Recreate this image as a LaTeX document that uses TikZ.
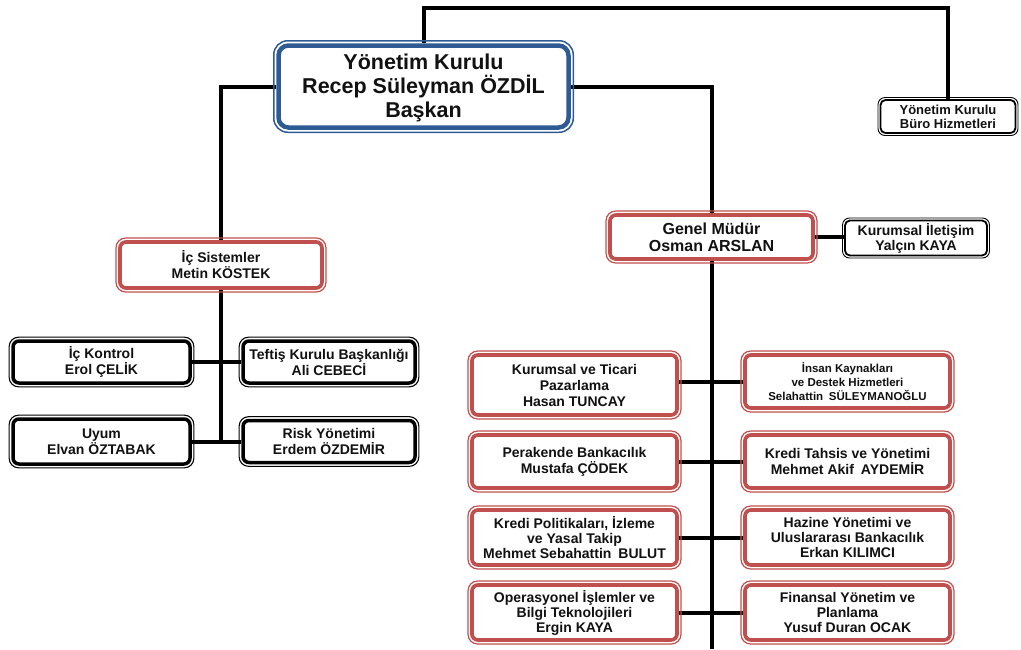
\documentclass[tikz,border=0pt]{standalone}
\usepackage{fontspec}
\setmainfont{Liberation Sans}
\usetikzlibrary{backgrounds}
\definecolor{boxred}{HTML}{C0504D}
\definecolor{boxblue}{HTML}{2E5B94}
\definecolor{txt}{HTML}{111111}
\begin{document}
\begin{tikzpicture}[x=1pt,y=-1pt,
  box/.style={rectangle, fill=white, align=center, text=txt, inner sep=1pt,
    font=\bfseries\fontsize{14}{16}\selectfont},
  redbox/.style={box, draw=boxred, line width=3.7pt, rounded corners=6pt},
  blackbox/.style={box, draw=black, line width=3.5pt, rounded corners=6pt},
  thinbox/.style={box, draw=black, line width=1.8pt, rounded corners=5pt,
    font=\bfseries\fontsize{13}{14}\selectfont},
  bluebox/.style={box, draw=boxblue, line width=4.5pt, rounded corners=10pt,
    font=\bfseries\fontsize{21.5}{24}\selectfont},
  redframe/.style={draw=boxred, line width=1.2pt, rounded corners=9.5pt},
  blackframe/.style={draw=black, line width=1.1pt, rounded corners=9.5pt},
  thinframe/.style={draw=black, line width=0.9pt, rounded corners=7pt},
  blueframe/.style={draw=boxblue, line width=1.5pt, rounded corners=14pt},
  link/.style={line width=4pt, draw=black}
]
\useasboundingbox (0,0) rectangle (1021,649);
\coordinate (tp) at (0,8);
\coordinate (bot) at (0,649);

% top level
\node[bluebox, minimum width=290, minimum height=82] (top) at (423.5,86.5)
  {\rule{0pt}{18pt}Yönetim Kurulu\\Recep Süleyman ÖZDİL\\Başkan};
\node[thinbox, minimum width=135, minimum height=33] (buro) at (948,116.5)
  {Yönetim Kurulu\\Büro Hizmetleri};

% second level
\node[redbox, minimum width=202, minimum height=46] (ics) at (221,265)
  {İç Sistemler\\Metin KÖSTEK};
\node[redbox, font=\bfseries\fontsize{16}{17}\selectfont, minimum width=203, minimum height=44] (gm) at (711.5,237)
  {Genel Müdür\\Osman ARSLAN};
\node[thinbox, font=\bfseries\fontsize{14}{15}\selectfont, minimum width=142, minimum height=35] (ki) at (916,238)
  {Kurumsal İletişim\\Yalçın KAYA};

% internal systems
\node[blackbox, minimum width=177, minimum height=42] (ik) at (101.5,362)
  {İç Kontrol\\Erol ÇELİK};
\node[blackbox, minimum width=172, minimum height=42] (tf) at (329,362)
  {Teftiş Kurulu Başkanlığı\\Ali CEBECİ};
\node[blackbox, minimum width=177, minimum height=45] (uy) at (101.5,441.5)
  {Uyum\\Elvan ÖZTABAK};
\node[blackbox, minimum width=172, minimum height=42] (rk) at (329,441.5)
  {Risk Yönetimi\\Erdem ÖZDEMİR};

% general manager units
\node[redbox, minimum width=205, minimum height=60] (kt) at (574.5,385)
  {Kurumsal ve Ticari\\Pazarlama\\Hasan TUNCAY};
\node[redbox, font=\bfseries\fontsize{11.5}{14}\selectfont, minimum width=205, minimum height=53] (ih) at (847.5,381.5)
  {İnsan Kaynakları\\ve Destek Hizmetleri\\Selahattin\enspace SÜLEYMANOĞLU};
\node[redbox, minimum width=205, minimum height=53] (pb) at (574.5,461.5)
  {Perakende Bankacılık\\Mustafa ÇÖDEK};
\node[redbox, minimum width=205, minimum height=53] (kty) at (847.5,461.5)
  {Kredi Tahsis ve Yönetimi\\Mehmet Akif\enspace AYDEMİR};
\node[redbox, font=\bfseries\fontsize{14}{15}\selectfont, minimum width=205, minimum height=55] (kp) at (574.5,537.5)
  {Kredi Politikaları, İzleme\\ve Yasal Takip\\Mehmet Sebahattin\enspace BULUT};
\node[redbox, font=\bfseries\fontsize{14}{15}\selectfont, minimum width=205, minimum height=55] (hz) at (847.5,537.5)
  {Hazine Yönetimi ve\\Uluslararası Bankacılık\\Erkan KILIMCI};
\node[redbox, font=\bfseries\fontsize{14}{15}\selectfont, minimum width=205, minimum height=55] (op) at (574.5,612.5)
  {Operasyonel İşlemler ve\\Bilgi Teknolojileri\\Ergin KAYA};
\node[redbox, font=\bfseries\fontsize{14}{15}\selectfont, minimum width=205, minimum height=55] (fy) at (847.5,612.5)
  {Finansal Yönetim ve\\Planlama\\Yusuf Duran OCAK};

% outer frames
\draw[blueframe] ([shift={(-2.5pt,2.5pt)}]top.north west) rectangle ([shift={(2.5pt,-2.5pt)}]top.south east);
\foreach \n in {buro,ki}
  \draw[thinframe] ([shift={(-1.6pt,1.6pt)}]\n.north west) rectangle ([shift={(1.6pt,-1.6pt)}]\n.south east);
\foreach \n in {ik,tf,uy,rk}
  \draw[blackframe] ([shift={(-2.1pt,2.1pt)}]\n.north west) rectangle ([shift={(2.1pt,-2.1pt)}]\n.south east);
\foreach \n in {ics,gm,kt,ih,pb,kty,kp,hz,op,fy}
  \draw[redframe] ([shift={(-2.1pt,2.1pt)}]\n.north west) rectangle ([shift={(2.1pt,-2.1pt)}]\n.south east);

% connectors
\begin{pgfonlayer}{background}
\draw[link] (top.north) -- (top.north |- tp) -| (buro.north);
\draw[link] (top.west) -| (ics.north);
\draw[link] (top.east) -| (gm.north);
\draw[link] (gm.east) -- (gm.east -| ki.west);
\draw[link] (ics.south) -- (ics.south |- uy.east);
\draw[link] (ik.east) -- (tf.west);
\draw[link] (uy.east) -- (rk.west);
\draw[link] (gm.south) -- (gm.south |- bot);
\draw[link] (kt.east |- ih.west) -- (ih.west);
\draw[link] (pb.east) -- (kty.west);
\draw[link] (kp.east) -- (hz.west);
\draw[link] (op.east) -- (fy.west);
\end{pgfonlayer}
\end{tikzpicture}
\end{document}
